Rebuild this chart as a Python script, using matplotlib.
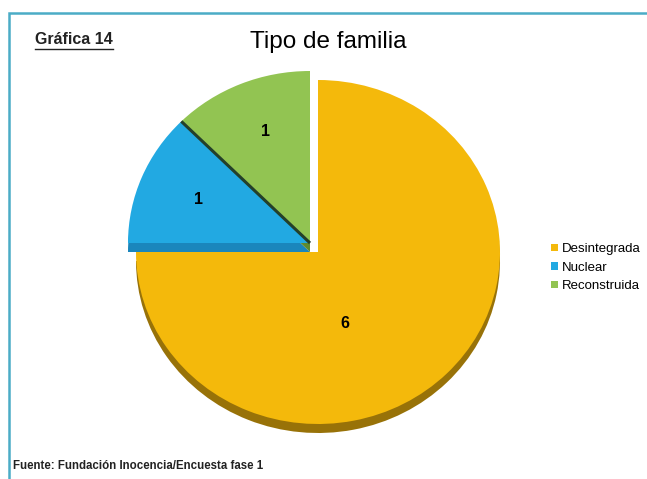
import matplotlib.pyplot as plt
from matplotlib.patches import Rectangle
from matplotlib.lines import Line2D
import numpy as np

# datos de la gráfica
categorias = ['Desintegrada', 'Nuclear', 'Reconstruida']
valores = [6, 1, 1]
colores = ['#F4B90B', '#22A9E2', '#92C452']
colores_borde = ['#987208', '#1A86BC', '#5E8A30']

plt.rcParams['font.family'] = ['Liberation Sans', 'DejaVu Sans']

W, H = 647, 479
fig = plt.figure(figsize=(W / 100, H / 100), dpi=100)
fig.patch.set_facecolor('white')

# centro del pastel en pixeles y radios (ligeramente eliptico)
cx, cy = 318, 252
rx, ry = 182, 172
ax = fig.add_axes([0, 0, 1, 1])

# desplazamiento de las porciones pequeñas y grosor del canto
sep = (-8 / rx, 9 / ry)
canto = 9 / ry

sombra, _ = ax.pie(valores, colors=colores_borde, startangle=90,
                   counterclock=False,
                   wedgeprops=dict(linewidth=0))
cunas, _, textos = ax.pie(valores, colors=colores, startangle=90,
                          counterclock=False, autopct=lambda p: '',
                          wedgeprops=dict(linewidth=0))

for i, (s, c) in enumerate(zip(sombra, cunas)):
    dx, dy = (0, 0) if i == 0 else sep
    s.set_center((dx, dy - canto))
    c.set_center((dx, dy))
    s.set_zorder(3 if i == 0 else 1)
    c.set_zorder(4 if i == 0 else 2)

# linea oscura entre Nuclear y Reconstruida
ang = np.deg2rad(90 + 360 * valores[2] / sum(valores))
ax.plot([sep[0], sep[0] + np.cos(ang)], [sep[1], sep[1] + np.sin(ang)],
        color='#24402A', lw=2.2, zorder=2.5, solid_capstyle='butt')

# etiquetas con los valores
pos_etiquetas = [(0.148, -0.413), (sep[0] - 0.615, sep[1] + 0.25),
                 (sep[0] - 0.247, sep[1] + 0.651)]
for t, v, p in zip(textos, valores, pos_etiquetas):
    t.set_text(str(v))
    t.set_position(p)
    t.set_fontsize(11.5)
    t.set_fontweight('bold')
    t.set_zorder(6)

ax.set_aspect('auto')
ax.set_xlim(-cx / rx, (W - cx) / rx)
ax.set_ylim(-(H - cy) / ry, cy / ry)
ax.axis('off')

# marco exterior
fig.add_artist(Rectangle((8.5 / W, -0.05), 2, (H - 13) / H + 0.05,
                         transform=fig.transFigure, fill=False,
                         edgecolor='#4BACC6', linewidth=1.8, zorder=10))

fig.text(328 / W, 1 - 42 / H, 'Tipo de familia', fontsize=17.5,
         ha='center', va='center')
t14 = fig.text(35 / W, 1 - 40 / H, 'Gráfica 14', fontsize=11.5,
               fontweight='bold', ha='left', va='center', color='#222222')
fig.text(13 / W, 1 - 466 / H, 'Fuente: Fundación Inocencia/Encuesta fase 1',
         fontsize=8.3, fontweight='bold', ha='left', va='center',
         color='#222222')

fig.legend(cunas, categorias, loc='upper left',
           bbox_to_anchor=(551 / W, 1 - 243 / H), frameon=False,
           handlelength=0.5, handleheight=0.5, handletextpad=0.3,
           labelspacing=0.5, fontsize=9.5, borderaxespad=0, borderpad=0)

# subrayado de "Gráfica 14"
fig.canvas.draw()
bb = t14.get_window_extent().transformed(fig.transFigure.inverted())
fig.add_artist(Line2D([bb.x0, bb.x1], [bb.y0 - 1 / H, bb.y0 - 1 / H],
                      transform=fig.transFigure, color='#222222', lw=1))

fig.savefig('out.png', dpi=100)
